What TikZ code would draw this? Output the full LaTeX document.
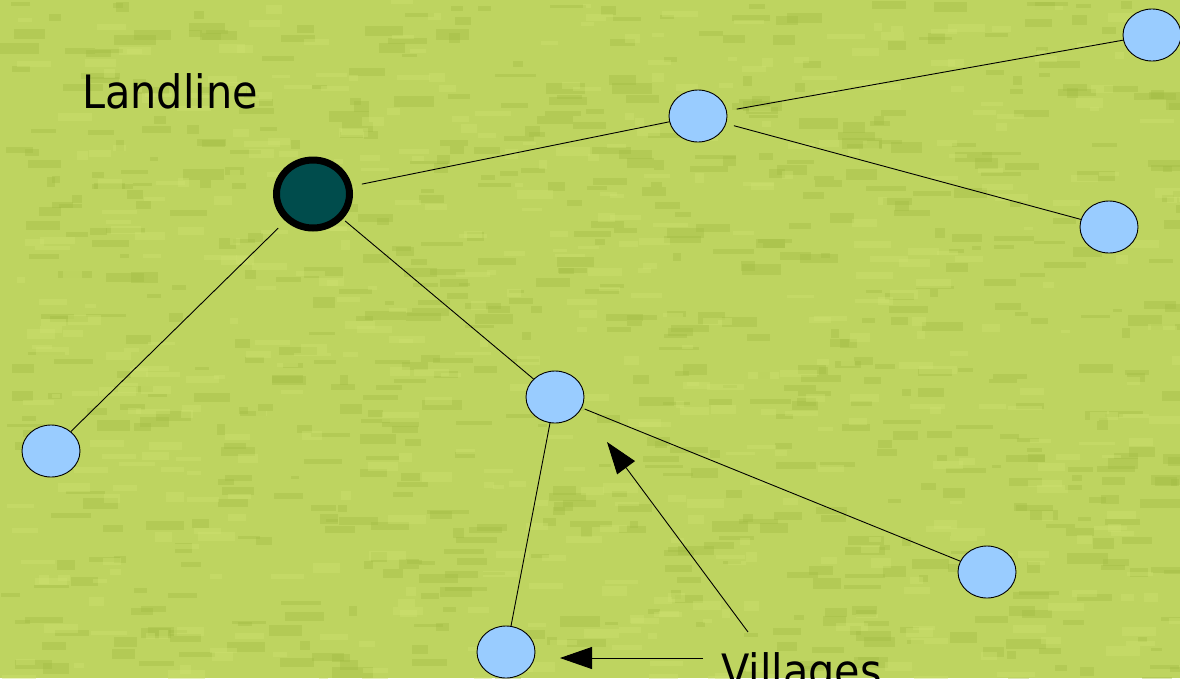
\documentclass[tikz,border=0pt]{standalone}
\usepackage{fontspec}
\usetikzlibrary{shapes.geometric,arrows.meta}
\newfontfamily\labelfont{DejaVu Sans Condensed}
\definecolor{meadow}{RGB}{190,212,96}
\definecolor{meadowdark}{RGB}{160,186,66}
\definecolor{meadowlight}{RGB}{206,226,112}
\definecolor{villageblue}{RGB}{153,204,255}
\definecolor{hubteal}{RGB}{0,76,76}
\tikzset{
  village/.style={ellipse, draw=black, line width=0.9pt, fill=villageblue,
    minimum width=58pt, minimum height=52pt, inner sep=0pt},
  hub/.style={ellipse, draw=black, line width=7pt, fill=hubteal,
    minimum width=73pt, minimum height=68pt, inner sep=0pt},
  link/.style={draw=black, line width=0.9pt},
  pointer/.style={draw=black, line width=0.9pt,
    -{Triangle[length=32pt,width=22pt]}},
  caption/.style={font=\labelfont\fontsize{46}{50}\selectfont, inner sep=0pt, anchor=base west}
}
\begin{document}
\begin{tikzpicture}[x=1pt,y=-1pt]
  % canvas
  \useasboundingbox (0,0) rectangle (1180,678);
  \clip (0,0) rectangle (1180,678);
  \fill[meadow] (0,0) rectangle (1180,678);
  % mottled grass texture
  \pgfmathsetseed{11}
  \foreach \i in {1,...,700}{
    \pgfmathsetmacro\px{rnd*1180}
    \pgfmathsetmacro\py{rnd*678}
    \pgfmathsetmacro\pw{8+rnd*34}
    \pgfmathsetmacro\ph{3+rnd*8}
    \fill[meadowdark, opacity=0.35] (\px,\py) rectangle ++(\pw,\ph);
  }
  \foreach \i in {1,...,500}{
    \pgfmathsetmacro\px{rnd*1180}
    \pgfmathsetmacro\py{rnd*678}
    \pgfmathsetmacro\pw{8+rnd*30}
    \pgfmathsetmacro\ph{3+rnd*7}
    \fill[meadowlight, opacity=0.4] (\px,\py) rectangle ++(\pw,\ph);
  }

  % network
  \node[hub] (hub) at (313,194) {};
  \node[village] (a) at (698,116) {};
  \node[village] (b) at (1152,35) {};
  \node[village] (c) at (1109,227) {};
  \node[village] (d) at (51,451) {};
  \node[village] (e) at (555,397) {};
  \node[village] (f) at (987,572) {};
  \node[village] (g) at (506,652) {};

  \draw[link, shorten <=10pt] (hub) -- (a);
  \draw[link, shorten <=10pt] (a) -- (b);
  \draw[link, shorten <=8pt] (a) -- (c);
  \draw[link, shorten <=10pt] (hub) -- (d);
  \draw[link, shorten <=3pt] (hub) -- (e);
  \draw[link] (e) -- (g);
  \draw[link, shorten <=3pt] (e) -- (f);

  % labels
  \node[caption] (landline) at (82,108) {Landline};
  \node[caption] (villages) at (721,687) {Villages};

  % pointers from the villages label
  \coordinate (p1) at (748,632);
  \coordinate (t1) at (607,442);
  \coordinate (p2) at (703,658);
  \coordinate (t2) at (560,658);
  \draw[pointer] (p1) -- (t1);
  \draw[pointer] (p2) -- (t2);
\end{tikzpicture}
\end{document}
